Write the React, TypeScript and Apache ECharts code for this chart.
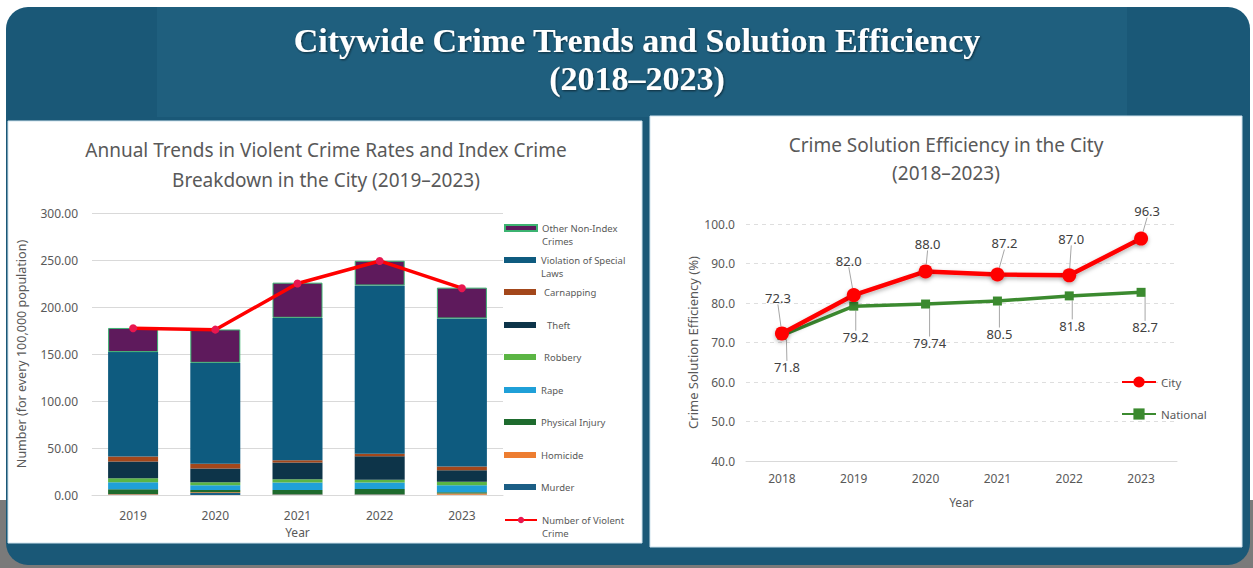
import React, { useEffect, useRef } from "react";
import * as echarts from "echarts";

// ---------- Left chart data ----------
const years = ["2019", "2020", "2021", "2022", "2023"];
const murder = [0.5, 2.0, 0.4, 0.4, 0.3];
const homicide = [0.5, 1.0, 0.3, 0.3, 1.2];
const physicalInjury = [5.1, 2.4, 4.6, 5.6, 1.4];
const rape = [7.5, 5.0, 7.9, 7.1, 7.5];
const robbery = [4.3, 3.2, 3.5, 2.8, 3.8];
const theft = [17.8, 14.6, 17.9, 25.0, 12.2];
const carnapping = [5.3, 5.0, 2.5, 2.6, 3.9];
const violationSpecialLaws = [111.0, 107.4, 151.4, 179.1, 157.5];
const otherNonIndex = [25.7, 35.5, 37.4, 26.3, 32.8];
const violentCrime = [177.4, 175.9, 225.0, 249.0, 220.0];

// ---------- Right chart data ----------
const effYears = ["2018", "2019", "2020", "2021", "2022", "2023"];
const cityEff = [72.3, 82.0, 88.0, 87.2, 87.0, 96.3];
const nationalEff = [71.8, 79.2, 79.74, 80.5, 81.8, 82.7];
const cityLabels = ["72.3", "82.0", "88.0", "87.2", "87.0", "96.3"];
const nationalLabels = ["71.8", "79.2", "79.74", "80.5", "81.8", "82.7"];

const FONT = "Noto Sans";
const GRAY = "#595959";

export default function App() {
  const ref = useRef<HTMLDivElement>(null);

  useEffect(() => {
    document.body.style.margin = "0";
    const chart = echarts.init(ref.current!, null, { renderer: "svg" });

    const barSeries = [
      { name: "Murder", data: murder, color: "#1b5e85" },
      { name: "Homicide", data: homicide, color: "#ed7d31" },
      { name: "Physical Injury", data: physicalInjury, color: "#1e6b2e" },
      { name: "Rape", data: rape, color: "#1fa0d8" },
      { name: "Robbery", data: robbery, color: "#5bb544" },
      { name: "Theft", data: theft, color: "#0d3449" },
      { name: "Carnapping", data: carnapping, color: "#a3471b" },
      { name: "Violation of Special Laws", data: violationSpecialLaws, color: "#0e5b7f" },
      { name: "Other Non-Index Crimes", data: otherNonIndex, color: "#5e1a5c" },
    ].map((s) => ({
      name: s.name,
      type: "bar",
      stack: "crime",
      xAxisIndex: 0,
      yAxisIndex: 0,
      barWidth: 50,
      data: s.data,
      itemStyle: {
        color: s.color,
        borderColor: s.name === "Other Non-Index Crimes" ? "#3cb371" : s.color,
        borderWidth: s.name === "Other Non-Index Crimes" ? 1 : 0,
      },
    }));

    const legendDefs = [
      { name: "Other Non-Index Crimes", label: "\nOther Non-Index\nCrimes", y: 228, two: true, pad: 0 },
      { name: "Violation of Special Laws", label: "\nViolation of Special\nLaws", y: 260, two: true, pad: 0 },
      { name: "Carnapping", label: "Carnapping", y: 292, two: false, pad: 3 },
      { name: "Theft", label: "Theft", y: 325, two: false, pad: 6 },
      { name: "Robbery", label: "Robbery", y: 357, two: false, pad: 3 },
      { name: "Rape", label: "Rape", y: 390, two: false, pad: 0 },
      { name: "Physical Injury", label: "Physical Injury", y: 422, two: false, pad: 0 },
      { name: "Homicide", label: "Homicide", y: 455, two: false, pad: 0 },
      { name: "Murder", label: "Murder", y: 487, two: false, pad: 0 },
      { name: "Number of Violent Crime", label: "\nNumber of Violent\nCrime", y: 520, two: true, pad: 0 },
    ];

    const leftLegends = legendDefs.map((d) => ({
      data: [d.name],
      left: 504,
      top: d.two ? d.y - 19.5 : d.y - 6.5,
      padding: 0,
      itemWidth: 32,
      itemHeight: d.name === "Number of Violent Crime" ? 8 : 6,
      selectedMode: false,
      icon: d.name === "Number of Violent Crime" ? undefined : "rect",
      formatter: () => d.label,
      textStyle: {
        fontFamily: FONT,
        fontSize: 9.5,
        color: GRAY,
        lineHeight: 13,
        padding: [0, 0, 0, d.pad],
      },
    }));

    const cityDx = [-4, -5, 2, 7, 2, 6];
    const cityDy = [-17, -16, -9, -13, -18, -9];
    const natDx = [5, 2, 4, 2, 3, 4];
    const natDy = [16, 15, 23, 17, 14, 19];

    const titleStyle = {
      fill: "#ffffff",
      font: "bold 34px 'Liberation Serif'",
      textAlign: "center",
      textVerticalAlign: "middle",
      textShadowColor: "rgba(0,0,0,0.55)",
      textShadowBlur: 2,
      textShadowOffsetX: 1,
      textShadowOffsetY: 1,
    };

    const option: any = {
      animation: false,
      backgroundColor: "#ffffff",
      graphic: [
        { type: "rect", z: -20, shape: { x: 0, y: 500, width: 1253, height: 68 }, style: { fill: "#7a7a7a" } },
        { type: "rect", z: -19, shape: { x: 6, y: 7, width: 1244, height: 558, r: 22 }, style: { fill: "#1a5877" } },
        { type: "rect", z: -18, shape: { x: 157, y: 7, width: 970, height: 110 }, style: { fill: "#1f5f7e" } },
        { type: "rect", z: -17, shape: { x: 8, y: 121, width: 634, height: 422 }, style: { fill: "#ffffff", stroke: "#cfe3ee", lineWidth: 1 } },
        { type: "rect", z: -17, shape: { x: 650, y: 116, width: 592, height: 431 }, style: { fill: "#ffffff", stroke: "#cfe3ee", lineWidth: 1 } },
        {
          type: "text",
          z: 10,
          x: 637,
          y: 40,
          style: { ...titleStyle, text: "Citywide Crime Trends and Solution Efficiency" },
        },
        {
          type: "text",
          z: 10,
          x: 637,
          y: 78,
          style: { ...titleStyle, text: "(2018–2023)" },
        },
        {
          type: "text",
          z: 10,
          x: 326,
          y: 165,
          style: {
            text: "Annual Trends in Violent Crime Rates and Index Crime\nBreakdown in the City (2019–2023)",
            fill: GRAY,
            font: `19px '${FONT}'`,
            lineHeight: 30,
            textAlign: "center",
            textVerticalAlign: "middle",
          },
        },
        {
          type: "text",
          z: 10,
          x: 946,
          y: 159,
          style: {
            text: "Crime Solution Efficiency in the City\n(2018–2023)",
            fill: GRAY,
            font: `19px '${FONT}'`,
            lineHeight: 28,
            textAlign: "center",
            textVerticalAlign: "middle",
          },
        },
      ],
      legend: [
        ...leftLegends,
        {
          data: ["City", "National"],
          orient: "vertical",
          left: 1121,
          top: 376,
          padding: 0,
          itemGap: 20,
          itemWidth: 34,
          itemHeight: 14,
          selectedMode: false,
          textStyle: { fontFamily: FONT, fontSize: 11.5, color: GRAY },
        },
      ],
      grid: [
        { left: 92, right: 750, top: 213, bottom: 73 },
        { left: 746, right: 76, top: 224, bottom: 107 },
      ],
      xAxis: [
        {
          gridIndex: 0,
          type: "category",
          data: years,
          axisLine: { lineStyle: { color: "#d9d9d9" } },
          axisTick: { show: false },
          axisLabel: { color: GRAY, fontSize: 12, fontFamily: FONT, margin: 14 },
          name: "Year",
          nameLocation: "middle",
          nameGap: 31,
          nameTextStyle: { color: GRAY, fontSize: 12, fontFamily: FONT },
        },
        {
          gridIndex: 1,
          type: "category",
          data: effYears,
          axisLine: { lineStyle: { color: "#d9d9d9" } },
          axisTick: { show: false },
          axisLabel: { color: GRAY, fontSize: 12, fontFamily: FONT, margin: 11 },
          name: "Year",
          nameLocation: "middle",
          nameGap: 35,
          nameTextStyle: { color: GRAY, fontSize: 12, fontFamily: FONT },
        },
      ],
      yAxis: [
        {
          gridIndex: 0,
          type: "value",
          min: 0,
          max: 300,
          interval: 50,
          axisLine: { show: false },
          axisTick: { show: false },
          splitLine: { lineStyle: { color: "#d9d9d9" } },
          axisLabel: {
            color: GRAY,
            fontSize: 12,
            fontFamily: FONT,
            margin: 14,
            formatter: (v: number) => v.toFixed(2),
          },
          name: "Number (for every 100,000 population)",
          nameLocation: "middle",
          nameGap: 64,
          nameTextStyle: { color: GRAY, fontSize: 12.5, fontFamily: FONT },
        },
        {
          gridIndex: 1,
          type: "value",
          min: 40,
          max: 100,
          interval: 10,
          axisLine: { show: false },
          axisTick: { show: false },
          splitLine: { lineStyle: { color: "#dedede", type: [4, 4] } },
          axisLabel: {
            color: GRAY,
            fontSize: 12,
            fontFamily: FONT,
            margin: 11,
            formatter: (v: number) => v.toFixed(1),
          },
          name: "Crime Solution Efficiency (%)",
          nameLocation: "middle",
          nameGap: 47,
          nameTextStyle: { color: GRAY, fontSize: 13, fontFamily: FONT },
        },
      ],
      series: [
        ...barSeries,
        {
          name: "Number of Violent Crime",
          type: "line",
          xAxisIndex: 0,
          yAxisIndex: 0,
          data: violentCrime,
          z: 5,
          symbol: "circle",
          symbolSize: 8,
          lineStyle: { color: "#ff0000", width: 3.5 },
          itemStyle: { color: "#e8174f" },
        },
        {
          name: "City",
          type: "line",
          xAxisIndex: 1,
          yAxisIndex: 1,
          data: cityEff,
          z: 4,
          symbol: "circle",
          symbolSize: 14,
          lineStyle: {
            color: "#ff0000",
            width: 4.5,
            shadowColor: "rgba(0,0,0,0.3)",
            shadowBlur: 4,
            shadowOffsetY: 2,
          },
          itemStyle: { color: "#ff0000", shadowColor: "rgba(0,0,0,0.3)", shadowBlur: 4, shadowOffsetY: 2 },
          label: {
            show: true,
            position: "top",
            color: "#404040",
            fontSize: 13,
            fontFamily: FONT,
            formatter: (p: any) => cityLabels[p.dataIndex],
          },
          labelLine: { show: true, lineStyle: { color: "#a6a6a6", width: 1 } },
          labelLayout: (p: any) => ({ dx: cityDx[p.dataIndex], dy: cityDy[p.dataIndex] }),
        },
        {
          name: "National",
          type: "line",
          xAxisIndex: 1,
          yAxisIndex: 1,
          data: nationalEff,
          z: 3,
          symbol: "rect",
          symbolSize: 9,
          lineStyle: { color: "#3b8a2f", width: 3.5 },
          itemStyle: { color: "#3b8a2f" },
          label: {
            show: true,
            position: "bottom",
            color: "#404040",
            fontSize: 13,
            fontFamily: FONT,
            formatter: (p: any) => nationalLabels[p.dataIndex],
          },
          labelLine: { show: true, lineStyle: { color: "#a6a6a6", width: 1 } },
          labelLayout: (p: any) => ({ dx: natDx[p.dataIndex], dy: natDy[p.dataIndex] }),
        },
      ],
    };

    chart.setOption(option);
    return () => chart.dispose();
  }, []);

  return <div ref={ref} style={{ width: 1253, height: 568 }} />;
}
